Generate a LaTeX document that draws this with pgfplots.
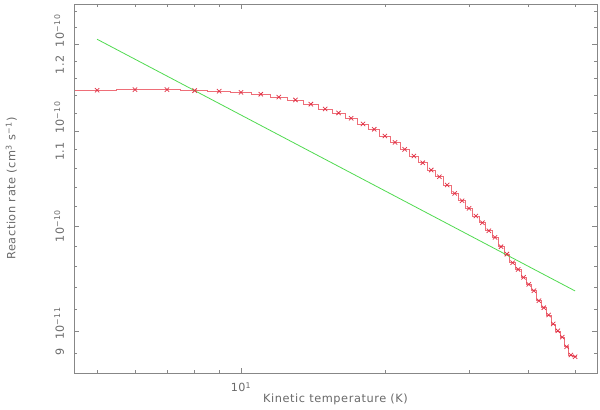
\documentclass[border=0pt]{standalone}
\usepackage{pgfplots}
\pgfplotsset{compat=1.18}
\usepackage{pgfplotstable}
\usepackage{fontspec}
\setmainfont{DejaVu Sans}
\newfontfamily\plotfont{DejaVu Sans}[LetterSpace=5]
\usetikzlibrary{calc}

\definecolor{framegray}{RGB}{135,135,135}
\definecolor{textgray}{RGB}{105,105,105}
\definecolor{ratered}{RGB}{225,50,70}
\definecolor{steppink}{RGB}{238,110,120}
\definecolor{fitgreen}{RGB}{80,218,80}

% rate coefficient (units of 1e-10 cm^3 s^-1) vs T;
% first and last rows are the half-bin edges of the histogram
\pgfplotstableread{
T     rate
4.5   1.1459
5     1.1459
6     1.1466
7     1.1466
8     1.1455
9     1.1448
10    1.1434
11    1.1413
12    1.1380
13    1.1348
14    1.1300
15    1.1246
16    1.1201
17    1.1141
18    1.1078
19    1.1019
20    1.0945
21    1.0875
22    1.0799
23    1.0727
24    1.0655
25    1.0578
26    1.0507
27    1.0420
28    1.0333
29    1.0257
30    1.0179
31    1.0101
32    1.0033
33    0.9953
34    0.9887
35    0.9795
36    0.9723
37    0.9639
38    0.9575
39    0.9499
40    0.9432
41    0.9372
42    0.9279
43    0.9214
44    0.9147
45    0.9065
46    0.9003
47    0.8946
48    0.8860
49    0.8787
50    0.8772
50.5  0.8772
}\ratetable

% power-law fit
\pgfplotstableread{
T   rate
5   1.206
50  0.937
}\fittable

\begin{document}
\begin{tikzpicture}
\begin{axis}[
    name=ax,
    scale only axis,
    width=392.25pt, height=276.75pt,
    xmode=log, ymode=log,
    xmin=4.474, xmax=55.56,
    ymin=0.863, ymax=1.2494,
    xtick={10},
    xticklabels={10\textsuperscript{1}},
    minor xtick={5,6,7,8,9,20,30,40,50},
    ytick={0.9,1,1.1,1.2},
    yticklabels={9\ \ 10\textsuperscript{−11},10\textsuperscript{−10},1.1\ \ 10\textsuperscript{−10},1.2\ \ 10\textsuperscript{−10}},
    minor ytick={0.88,0.92,0.94,0.96,0.98,1.02,1.04,1.06,1.08,1.12,1.14,1.16,1.18,1.22,1.24},
    tick align=inside,
    major tick length=4pt,
    minor tick length=2.4pt,
    axis line style={framegray, line width=0.5pt},
    every tick/.style={framegray, line width=0.5pt},
    tick label style={textgray, font=\plotfont\fontsize{8.4}{10}\selectfont},
    yticklabel style={rotate=90, anchor=south, yshift=4pt},
    xticklabel style={yshift=-3.5pt},
    xlabel={Kinetic temperature (K)},
    ylabel={Reaction rate (cm\textsuperscript{3} s\textsuperscript{−1})},
    label style={textgray, font=\plotfont\fontsize{8.5}{10}\selectfont},
    xlabel style={at={(axis description cs:0.5,0)}, anchor=center, yshift=-20pt},
    ylabel style={at={(axis description cs:0,0.5)}, anchor=center, yshift=47pt},
]
\addplot[steppink, line width=0.45pt, const plot mark mid, mark=none] table[x=T, y=rate] {\ratetable};
\addplot[ratered, only marks, mark=x, mark size=2.3pt, line width=0.55pt,
    skip coords between index={0}{1}, skip coords between index={47}{48}]
    table[x=T, y=rate] {\ratetable};
\addplot[fitgreen, line width=0.6pt, mark=none] table[x=T, y=rate] {\fittable};
\end{axis}
\path ($(ax.south west)+(-55.5pt,-26.25pt)$) rectangle ($(ax.north east)+(2.25pt,3pt)$);
\end{tikzpicture}
\end{document}
